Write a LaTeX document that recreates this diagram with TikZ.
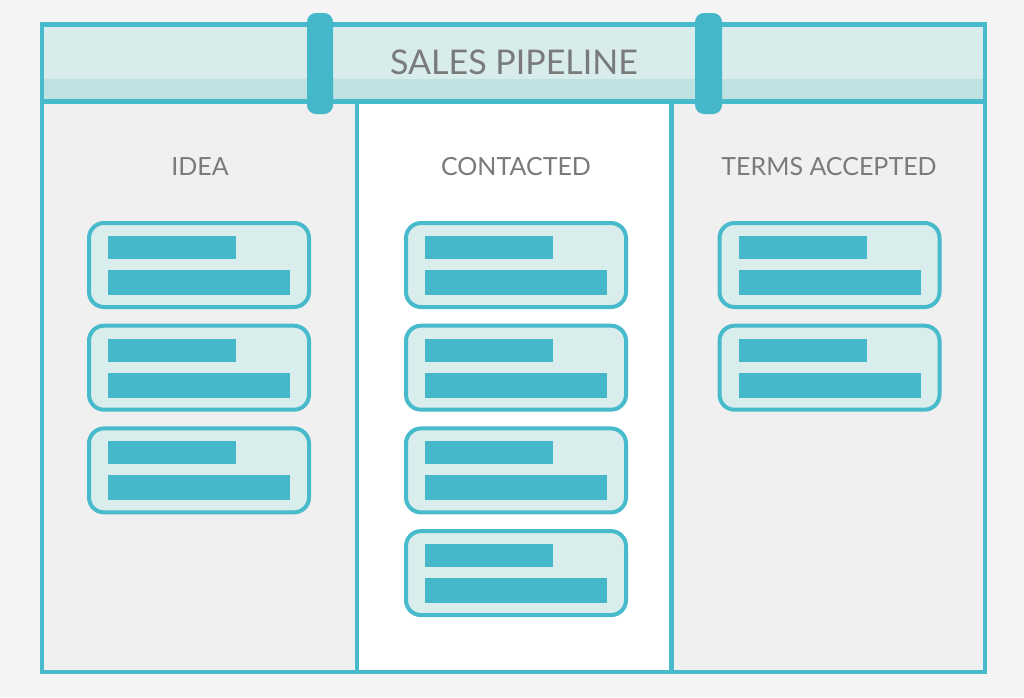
\documentclass[tikz,border=0pt]{standalone}
\usepackage{fontspec}
\setmainfont{Lato}
\usetikzlibrary{positioning}

\definecolor{pagegray}{HTML}{F4F4F4}
\definecolor{colgray}{HTML}{F0F0F0}
\definecolor{headlight}{HTML}{D9ECEC}
\definecolor{headdark}{HTML}{BEE1E2}
\definecolor{pipeframe}{HTML}{47BACB}
\definecolor{pipebar}{HTML}{44B8C9}
\definecolor{cardfill}{HTML}{D9EDEC}
\definecolor{labelgray}{HTML}{7A7A7C}

\begin{document}
\begin{tikzpicture}[
    x=1pt, y=-1pt,
    frame/.style={draw=pipeframe, line width=4.5pt},
    tab/.style={fill=pipebar, rounded corners=9pt},
    card/.style={draw=pipeframe, fill=cardfill, line width=4pt, rounded corners=15pt,
      minimum width=220pt, minimum height=84pt, inner sep=0pt},
    bar/.style={fill=pipebar},
    title/.style={text=labelgray, font=\fontsize{34}{40}\selectfont},
    colname/.style={text=labelgray, font=\fontsize{25}{30}\selectfont}
  ]
  \fill[pagegray] (0,0) rectangle (1024,697);
  \useasboundingbox (0,0) rectangle (1024,697);

  % columns and header
  \fill[colgray] (42,101.5) rectangle (357,672);
  \fill[white] (357,101.5) rectangle (671.5,672);
  \fill[colgray] (671.5,101.5) rectangle (985,672);
  \fill[headlight] (42,24.5) rectangle (985,79);
  \fill[headdark] (42,79) rectangle (985,101.5);
  \draw[frame] (42,24.5) rectangle (985,672);
  \draw[frame] (42,101.5) -- (985,101.5);
  \draw[frame] (357,101.5) -- (357,672);
  \draw[frame] (671.5,101.5) -- (671.5,672);
  \fill[tab] (307,13) rectangle (333,114);
  \fill[tab] (695,13) rectangle (722,114);

  \node[title] (pipeline) at (514,62.5) {SALES PIPELINE};
  \node[colname] (idea) at (200,166.5) {IDEA};
  \node[colname] (contacted) at (516,166.5) {CONTACTED};
  \node[colname] (terms) at (829,166.5) {TERMS ACCEPTED};

  % cards
  \foreach \col/\x/\n in {idea/199/3, contacted/516/4, terms/829.5/2} {
    \foreach \i in {1,...,\n} {
      \node[card] (\col-card\i) at (\x, {265+(\i-1)*102.7}) {};
      \fill[bar] ([shift={(-91,-29)}]\col-card\i.center) rectangle ([shift={(37,-6)}]\col-card\i.center);
      \fill[bar] ([shift={(-91,5)}]\col-card\i.center) rectangle ([shift={(91,30)}]\col-card\i.center);
    }
  }
\end{tikzpicture}
\end{document}
